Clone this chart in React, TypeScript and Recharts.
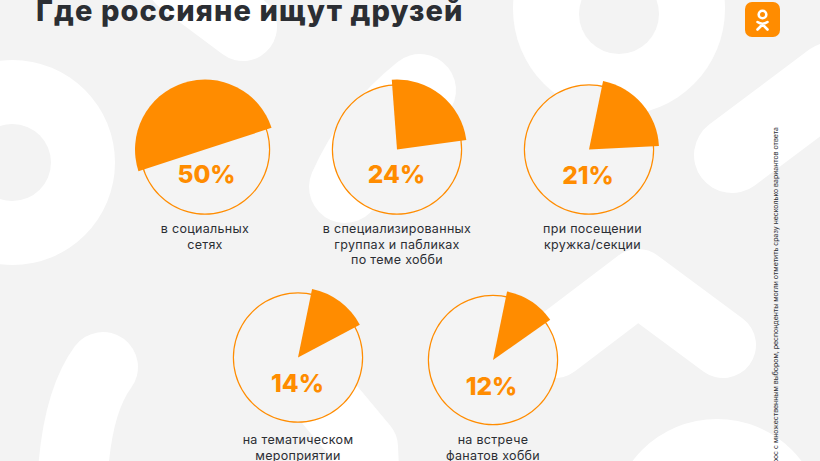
import { PieChart, Pie, Cell } from "recharts";

const TITLE = "Где россияне ищут друзей";
const NOTE = "Опрос с множественным выбором, респонденты могли отметить сразу несколько вариантов ответа";
const SHARES = [50, 24, 21, 14, 12];
const PERCENT_LABELS = ["50%", "24%", "21%", "14%", "12%"];
const CAPTIONS = [
  ["в социальных", "сетях"],
  ["в специализированных", "группах и пабликах", "по теме хобби"],
  ["при посещении", "кружка/секции"],
  ["на тематическом", "мероприятии"],
  ["на встрече", "фанатов хобби"],
];

// layout of each small pie
const CENTERS = [
  { x: 205, y: 149.5 },
  { x: 397, y: 149.5 },
  { x: 589, y: 149.5 },
  { x: 298, y: 357.5 },
  { x: 493, y: 360 },
];
const START_ANGLES = [198, 94.3, 78.4, 78.4, 78.4];
const PERCENT_POS = [
  { x: 206.5, y: 183 },
  { x: 396.5, y: 183 },
  { x: 588, y: 184 },
  { x: 297.5, y: 392 },
  { x: 491.5, y: 395 },
];
const CAPTION_POS = [
  { x: 205, y: 233 },
  { x: 397, y: 233 },
  { x: 592.5, y: 233 },
  { x: 298, y: 444 },
  { x: 493, y: 444 },
];

const ORANGE = "#ff8c00";
const DARK = "#2b2e33";
const BG = "#f3f3f3";
const FONT = "Inter, sans-serif";

function Background() {
  return (
    <svg width={820} height={461} style={{ position: "absolute", left: 0, top: 0 }}>
      <rect width={820} height={461} fill={BG} />
      <g fill="#fff">
        <circle cx={12.5} cy={162.5} r={102.5} />
        <circle cx={619} cy={9} r={106} />
        <circle cx={717} cy={525} r={106} />
      </g>
      <g fill={BG}>
        <circle cx={12.5} cy={162.5} r={38.5} />
        <circle cx={619} cy={14} r={40} />
      </g>
      <g fill="none" stroke="#fff" strokeLinecap="round" strokeLinejoin="round">
        <path d="M732 155 L832 80" strokeWidth={76} />
        <path d="M555 345 L638 282 L723 345" strokeWidth={66} />
        <path d="M103 367 Q75 405 72 490" strokeWidth={70} />
        <path d="M243 27 L180 -20" strokeWidth={68} />
        <path d="M420 90 Q370 130 345 187" strokeWidth={72} />
        <path d="M315 387 L365 447 L367 490" strokeWidth={66} />
      </g>
    </svg>
  );
}

function Logo() {
  return (
    <g>
      <rect x={745} y={2} width={35} height={35} rx={7} fill={ORANGE} />
      <circle cx={762.5} cy={14.5} r={3.8} fill="none" stroke="#fff" strokeWidth={2.6} />
      <path
        d="M757.5 22 Q762.5 25.5 767.5 22 M762.5 24.5 L757.5 29.5 M762.5 24.5 L767.5 29.5"
        fill="none"
        stroke="#fff"
        strokeWidth={2.6}
        strokeLinecap="round"
      />
    </g>
  );
}

// drawn as the pie's own label so it sits above the disc
function percentLabel(i: number) {
  return ({ index }: { index: number }) =>
    index === 0 ? (
      <text
        x={PERCENT_POS[i].x}
        y={PERCENT_POS[i].y}
        textAnchor="middle"
        fontFamily={FONT}
        fontSize={24.5}
        fontWeight={800}
        fill={ORANGE}
      >
        {PERCENT_LABELS[i]}
      </text>
    ) : null;
}

export default function App() {
  return (
    <div style={{ position: "absolute", left: 0, top: 0, width: 820, height: 461, overflow: "hidden" }}>
      <Background />
      <div style={{ position: "absolute", left: 0, top: 0 }}>
        <PieChart width={820} height={461} margin={{ top: 0, right: 0, bottom: 0, left: 0 }}>
          {SHARES.map((share, i) => (
            <Pie
              key={`disc-${i}`}
              data={[{ name: "disc", value: 100 }]}
              dataKey="value"
              cx={CENTERS[i].x}
              cy={CENTERS[i].y}
              innerRadius={0}
              outerRadius={64.7}
              startAngle={90}
              endAngle={-270}
              fill="#f4f4f4"
              stroke="none"
              isAnimationActive={false}
            />
          ))}
          {SHARES.map((share, i) => (
            <Pie
              key={`ring-${i}`}
              data={[{ name: "ring", value: 100 }]}
              dataKey="value"
              cx={CENTERS[i].x}
              cy={CENTERS[i].y}
              innerRadius={64}
              outerRadius={65.2}
              startAngle={90}
              endAngle={-270}
              fill={ORANGE}
              stroke="none"
              isAnimationActive={false}
            />
          ))}
          {SHARES.map((share, i) => (
            <Pie
              key={`share-${i}`}
              data={[
                { name: CAPTIONS[i].join(" "), value: share },
                { name: "остальные", value: 100 - share },
              ]}
              dataKey="value"
              cx={CENTERS[i].x}
              cy={CENTERS[i].y}
              innerRadius={0}
              outerRadius={70}
              startAngle={START_ANGLES[i]}
              endAngle={START_ANGLES[i] - 360}
              stroke="none"
              label={percentLabel(i)}
              labelLine={false}
              isAnimationActive={false}
            >
              <Cell fill={ORANGE} />
              <Cell fill="none" />
            </Pie>
          ))}
          <text x={36} y={21} fontFamily={FONT} fontSize={29} fontWeight={800} fill={DARK} letterSpacing={1.1}>
            {TITLE}
          </text>
          {CAPTIONS.map((lines, i) =>
            lines.map((line, j) => (
              <text
                key={line}
                x={CAPTION_POS[i].x}
                y={CAPTION_POS[i].y + j * 15.7}
                textAnchor="middle"
                fontFamily={FONT}
                fontSize={12.5}
                fill={DARK}
                letterSpacing={0.3}
              >
                {line}
              </text>
            ))
          )}
          <text
            transform="translate(778 127) rotate(-90)"
            textAnchor="end"
            fontFamily={FONT}
            fontSize={6.95}
            fill={DARK}
          >
            {NOTE}
          </text>
          <Logo />
        </PieChart>
      </div>
    </div>
  );
}
